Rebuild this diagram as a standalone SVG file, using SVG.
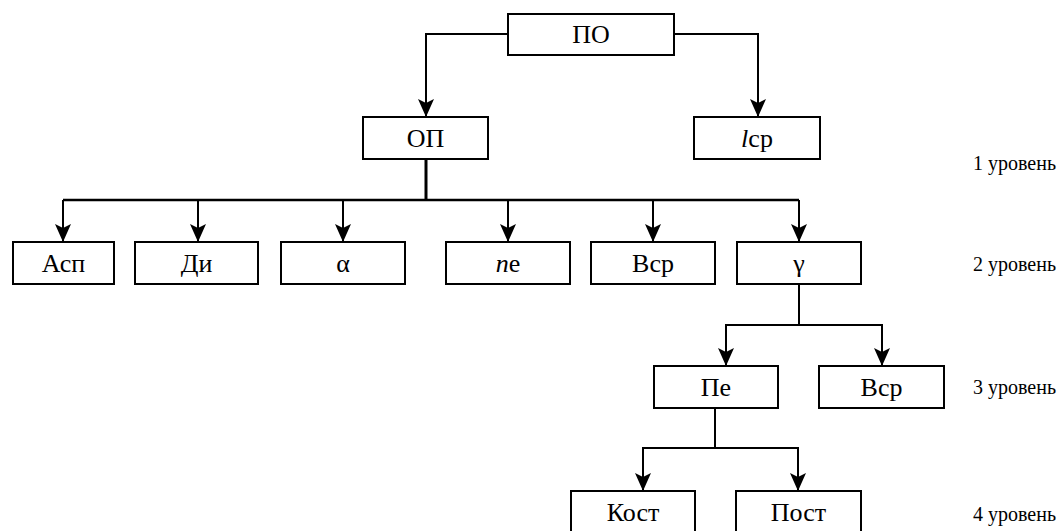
<svg xmlns="http://www.w3.org/2000/svg" width="1059" height="531" viewBox="0 0 1059 531">
  <style>
    .box { fill: #fff; stroke: #000; stroke-width: 2; }
    .wire { fill: none; stroke: #000; stroke-width: 2; }
    .arr { marker-end: url(#head); }
  </style>
  <defs>
    <marker id="head" markerUnits="userSpaceOnUse" markerWidth="22" markerHeight="18" viewBox="-20 -9 22 18" refX="0" refY="0" orient="auto">
      <path d="M0,0 L-18,-8 L-14,0 L-18,8 z" fill="#000"/>
    </marker>
  </defs>

  <!-- connectors -->
  <g id="connectors">
    <path class="wire arr" d="M508,34 H426 V117"/>
    <path class="wire arr" d="M674,34 H758 V117"/>
    <path class="wire" d="M426,159 V200" style="stroke-width:3"/>
    <path class="wire" d="M63,200 H799" style="stroke-width:2.5"/>
    <path class="wire arr" d="M63,200 V242"/>
    <path class="wire arr" d="M198,200 V242"/>
    <path class="wire arr" d="M343,200 V242"/>
    <path class="wire arr" d="M508,200 V242"/>
    <path class="wire arr" d="M653,200 V242"/>
    <path class="wire arr" d="M799,200 V242"/>
    <path class="wire" d="M799,284 V325"/>
    <path class="wire arr" d="M799,325 H726 V366"/>
    <path class="wire arr" d="M799,325 H882 V366"/>
    <path class="wire" d="M715,408 V448"/>
    <path class="wire arr" d="M715,448 H643 V491"/>
    <path class="wire arr" d="M715,448 H798 V491"/>
  </g>

  <!-- nodes -->
  <g id="n-po">
    <rect class="box" x="508" y="14" width="166" height="41"/>
    <text x="591" y="43" font-family="Liberation Serif" font-size="26" text-anchor="middle">ПО</text>
  </g>
  <g id="n-op">
    <rect class="box" x="363" y="117" width="125" height="42"/>
    <text x="425.5" y="147" font-family="Liberation Serif" font-size="26" text-anchor="middle">ОП</text>
  </g>
  <g id="n-lcp">
    <rect class="box" x="694" y="117" width="126" height="42"/>
    <text x="757" y="147" font-family="Liberation Serif" font-size="26" text-anchor="middle"><tspan font-style="italic">l</tspan>ср</text>
  </g>
  <g id="n-asp">
    <rect class="box" x="13" y="242" width="101" height="42"/>
    <text x="63.5" y="272" font-family="Liberation Serif" font-size="26" text-anchor="middle">Асп</text>
  </g>
  <g id="n-di">
    <rect class="box" x="135" y="242" width="123" height="42"/>
    <text x="196.5" y="272" font-family="Liberation Serif" font-size="26" text-anchor="middle">Ди</text>
  </g>
  <g id="n-alpha">
    <rect class="box" x="281" y="242" width="124" height="42"/>
    <text x="343" y="272" font-family="Liberation Serif" font-size="26" text-anchor="middle">α</text>
  </g>
  <g id="n-ne">
    <rect class="box" x="446" y="242" width="124" height="42"/>
    <text x="508" y="272" font-family="Liberation Serif" font-size="26" text-anchor="middle"><tspan font-style="italic">n</tspan>е</text>
  </g>
  <g id="n-bcp">
    <rect class="box" x="591" y="242" width="124" height="42"/>
    <text x="653" y="272" font-family="Liberation Serif" font-size="26" text-anchor="middle">Вср</text>
  </g>
  <g id="n-gamma">
    <rect class="box" x="737" y="242" width="124" height="42"/>
    <text x="799" y="272" font-family="Liberation Serif" font-size="26" text-anchor="middle">γ</text>
  </g>
  <g id="n-pe">
    <rect class="box" x="654" y="366" width="124" height="42"/>
    <text x="716" y="396" font-family="Liberation Serif" font-size="26" text-anchor="middle">Пе</text>
  </g>
  <g id="n-bcp2">
    <rect class="box" x="819" y="366" width="125" height="42"/>
    <text x="881.5" y="396" font-family="Liberation Serif" font-size="26" text-anchor="middle">Вср</text>
  </g>
  <g id="n-kost">
    <rect class="box" x="571" y="491" width="124" height="44"/>
    <text x="633" y="521" font-family="Liberation Serif" font-size="26" text-anchor="middle">Кост</text>
  </g>
  <g id="n-post">
    <rect class="box" x="736" y="491" width="125" height="44"/>
    <text x="798.5" y="521" font-family="Liberation Serif" font-size="26" text-anchor="middle">Пост</text>
  </g>

  <!-- level captions -->
  <g id="levels" font-family="Liberation Serif" font-size="20" fill="#000">
    <text x="973" y="170">1 уровень</text>
    <text x="973" y="271">2 уровень</text>
    <text x="973" y="394">3 уровень</text>
    <text x="973" y="521">4 уровень</text>
  </g>
</svg>
